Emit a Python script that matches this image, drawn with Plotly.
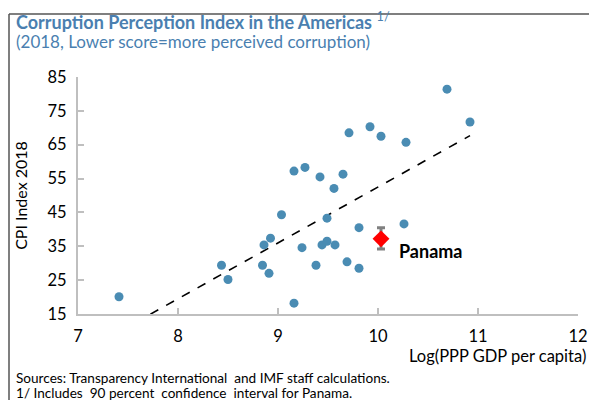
import plotly.graph_objects as go
import numpy as np

# Data
log_gdp = [7.41, 8.435, 8.50, 9.16, 9.27, 9.42, 9.65, 9.56, 9.035, 9.49, 9.81, 10.26,
           8.925, 8.86, 9.24, 9.44, 9.49, 9.57, 8.845, 8.91, 9.38, 9.69, 9.81, 9.16,
           10.69, 10.92, 9.71, 9.92, 10.03, 10.28]
cpi = [20.1, 29.4, 25.2, 57.2, 58.3, 55.5, 56.3, 52.1, 44.3, 43.3, 40.5, 41.6,
       37.4, 35.4, 34.6, 35.4, 36.5, 35.4, 29.4, 27.0, 29.4, 30.4, 28.5, 18.2,
       81.4, 71.7, 68.5, 70.3, 67.5, 65.7]

panama_x = [10.03]
panama_y = [37.2]
panama_err_plus = [3.3]
panama_err_minus = [3.0]

trend_slope = 16.5
trend_intercept = -112.5

x_ticks = [7, 8, 9, 10, 11, 12]
y_ticks = [15, 25, 35, 45, 55, 65, 75, 85]

FONT = "Lato"
BLUE_T = "#4a7fb0"

trend_x = np.array([min(log_gdp), max(log_gdp)])
trend_y = trend_intercept + trend_slope * trend_x

fig = go.Figure()
fig.add_trace(go.Scatter(x=trend_x, y=trend_y, mode="lines",
                         line=dict(color="black", width=1.6, dash="dash"),
                         hoverinfo="skip", showlegend=False))
fig.add_trace(go.Scatter(x=log_gdp, y=cpi, mode="markers",
                         marker=dict(color="#4a8cb3", size=9, line=dict(width=0)),
                         showlegend=False))
fig.add_trace(go.Scatter(x=panama_x, y=panama_y, mode="markers",
                         marker=dict(color="#ff0000", size=13, symbol="diamond", line=dict(width=0)),
                         error_y=dict(type="data", symmetric=False, array=panama_err_plus,
                                      arrayminus=panama_err_minus, color="#808080",
                                      thickness=3, width=4),
                         showlegend=False))

fig.add_annotation(x=panama_x[0], y=panama_y[0], text="<b>Panama</b>", showarrow=False,
                   xanchor="left", yanchor="middle", xshift=16, yshift=-12,
                   font=dict(family=FONT, size=18, color="black"))

axis_common = dict(showgrid=False, zeroline=False, showline=True, linecolor="#bfbfbf",
                   linewidth=2, ticks="inside", tickcolor="#bfbfbf", tickwidth=2, ticklen=6,
                   automargin=False,
                   tickfont=dict(family=FONT, size=16.5, color="black"))

fig.update_xaxes(range=[7, 12], tickvals=x_ticks, ticklabelstandoff=6, **axis_common)
fig.update_yaxes(range=[15, 85], tickvals=y_ticks, ticklabelstandoff=6,
                 title=dict(text="CPI Index 2018", font=dict(family=FONT, size=16, color="black"),
                            standoff=16),
                 **axis_common)

fig.add_annotation(xref="paper", yref="paper", x=1.02, y=-0.177, xanchor="right", yanchor="middle",
                   text="Log(PPP GDP per capita)", showarrow=False,
                   font=dict(family=FONT, size=16.5, color="black"))

fig.add_annotation(xref="paper", yref="paper", x=-0.128, y=1.237, xanchor="left", yanchor="middle",
                   text="<b>Corruption Perception Index in the Americas</b> <sup>1/</sup>",
                   showarrow=False, font=dict(family=FONT, size=18, color=BLUE_T))
fig.add_annotation(xref="paper", yref="paper", x=-0.128, y=1.148, xanchor="left", yanchor="middle",
                   text="(2018, Lower score=more perceived corruption)",
                   showarrow=False, font=dict(family=FONT, size=17, color=BLUE_T))

fig.add_annotation(xref="paper", yref="paper", x=-0.128, y=-0.268, xanchor="left", yanchor="middle",
                   text="Sources: Transparency International  and IMF staff calculations.",
                   showarrow=False, font=dict(family=FONT, size=13.6, color="black"))
fig.add_annotation(xref="paper", yref="paper", x=-0.128, y=-0.333, xanchor="left", yanchor="middle",
                   text="1/ Includes  90 percent  confidence  interval for Panama.",
                   showarrow=False, font=dict(family=FONT, size=13.6, color="black"))

# frame lines (top and left)
fig.add_shape(type="line", xref="paper", yref="paper", x0=-0.138, x1=1.1, y0=1.2658, y1=1.2658,
              line=dict(color="#555555", width=1.5))
fig.add_shape(type="line", xref="paper", yref="paper", x0=-0.138, x1=-0.138, y0=-0.5, y1=1.2658,
              line=dict(color="#555555", width=1.5))

# page body has an 8px margin, so the figure is sized to fit the 597x400 window
fig.update_layout(width=581, height=392, margin=dict(l=70, r=11, t=69, b=86),
                  plot_bgcolor="white", paper_bgcolor="white",
                  font=dict(family=FONT))

fig.write_html("out.html")
